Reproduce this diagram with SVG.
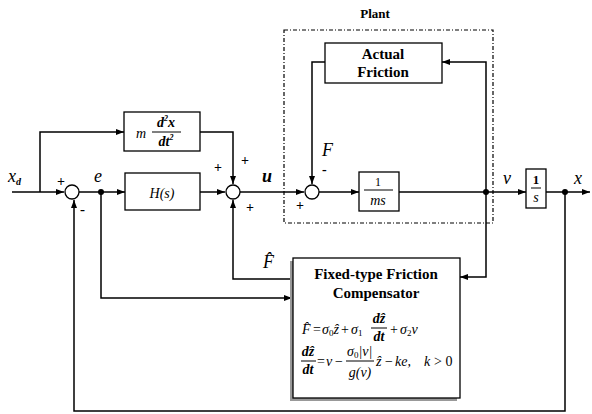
<svg xmlns="http://www.w3.org/2000/svg" width="592" height="414" viewBox="0 0 592 414" font-family="Liberation Serif, Times New Roman, serif">
<style>
.ar{stroke:#000;stroke-width:1.5;fill:none;marker-end:url(#ah)}
.box{fill:#fff;stroke:#000;stroke-width:1.3}
.sum{fill:#fff;stroke:#000;stroke-width:1.3}
.dot{fill:#000}
text{fill:#000;font-family:"Liberation Serif","Times New Roman",Times,serif}
.b{font-weight:bold}
.lbl{font-size:18px;font-style:italic}
.sg{font-size:15px;font-weight:bold}
.eq{font-size:14px;font-style:italic}
.rm{font-style:normal}
.sub{font-size:9px;font-style:normal}
</style>
<defs>
<marker id="ah" markerWidth="8" markerHeight="6" refX="8" refY="3" orient="auto" markerUnits="userSpaceOnUse">
<path d="M0,0 L8,3 L0,6 z" fill="#000"/>
</marker>
</defs>

<g id="connectors">
<path class="ar" d="M12,192 H64"/>
<path class="ar" d="M40,192 V132 H124"/>
<path class="ar" d="M79,192 H125"/>
<path class="ar" d="M200,192 H225"/>
<path class="ar" d="M200,132 H233 V184"/>
<path class="ar" d="M240,192 H304"/>
<path class="ar" d="M325,62 H312 V184"/>
<path class="ar" d="M319,192 H359"/>
<path class="ar" d="M399,192 H526"/>
<path class="ar" d="M486,192 V62 H442"/>
<path class="ar" d="M486,192 V277 H460"/>
<path class="ar" d="M546,192 H590"/>
<path class="ar" d="M565,192 V411 H74 V200"/>
<path class="ar" d="M101,192 V298 H292"/>
<path class="ar" d="M292,279 H233 V200"/>
<circle class="dot" cx="101" cy="192" r="3"/>
<circle class="dot" cx="486" cy="192" r="3"/>
<circle class="dot" cx="565" cy="192" r="3"/>
</g>

<g id="plant">
<rect x="284" y="30" width="209" height="193" fill="none" stroke="#000" stroke-width="1.2" stroke-dasharray="4,2,1,2"/>
<text x="375" y="18" font-size="13" class="b" text-anchor="middle">Plant</text>
</g>

<g id="sum1"><circle class="sum" cx="72" cy="192" r="7"/></g>
<g id="sum2"><circle class="sum" cx="233" cy="192" r="7"/></g>
<g id="sum3"><circle class="sum" cx="312" cy="192" r="7"/></g>

<g id="feedforward">
<rect class="box" x="124" y="112" width="76" height="39"/>
<text x="136" y="138" class="eq" font-size="16">m</text>
<text x="166" y="127" class="eq b" font-size="14" text-anchor="middle">d<tspan font-size="8" dy="-6">2</tspan><tspan dy="6">x</tspan></text>
<line x1="152" y1="132" x2="181" y2="132" stroke="#000" stroke-width="1"/>
<text x="166" y="146" class="eq b" font-size="14" text-anchor="middle">dt<tspan font-size="8" dy="-6">2</tspan></text>
</g>

<g id="controller">
<rect class="box" x="125" y="173" width="75" height="37"/>
<text x="162" y="198" class="eq" font-size="16" text-anchor="middle">H(s)</text>
</g>

<g id="friction">
<rect class="box" x="325" y="43" width="117" height="40"/>
<text x="383" y="59" class="sg" text-anchor="middle">Actual</text>
<text x="383" y="77" class="sg" text-anchor="middle">Friction</text>
</g>

<g id="mass">
<rect class="box" x="359" y="172" width="40" height="39"/>
<text x="378" y="186" font-size="12" text-anchor="middle">1</text>
<line x1="364" y1="190" x2="393" y2="190" stroke="#000" stroke-width="1"/>
<text x="378" y="205" class="eq" font-size="12" text-anchor="middle">ms</text>
</g>

<g id="integrator">
<rect class="box" x="526" y="169" width="20" height="39"/>
<text x="536" y="184" font-size="13" class="b" text-anchor="middle">1</text>
<line x1="531" y1="188" x2="541" y2="188" stroke="#000" stroke-width="1"/>
<text x="536" y="202" class="eq" font-size="14" text-anchor="middle">s</text>
</g>

<g id="compensator">
<rect x="290" y="261" width="167" height="140" fill="#999"/>
<rect class="box" x="293" y="258" width="167" height="140" stroke-width="1.5"/>
<text x="376" y="279" class="sg" font-size="16" text-anchor="middle">Fixed-type Friction</text>
<text x="376" y="298" class="sg" font-size="16" text-anchor="middle">Compensator</text>
<text x="302" y="334" class="eq">F̂</text>
<text x="313" y="334" class="eq rm">=</text>
<text x="322" y="334" class="eq">σ<tspan class="sub" dy="2">0</tspan><tspan dy="-2">ẑ</tspan></text>
<text x="341" y="334" class="eq rm">+</text>
<text x="351" y="334" class="eq">σ<tspan class="sub" dy="2">1</tspan></text>
<text x="379" y="323" class="eq b" font-size="13" text-anchor="middle">dẑ</text>
<line x1="371" y1="328" x2="387" y2="328" stroke="#000" stroke-width="1"/>
<text x="379" y="341" class="eq b" font-size="13" text-anchor="middle">dt</text>
<text x="390" y="334" class="eq rm">+</text>
<text x="400" y="334" class="eq">σ<tspan class="sub" dy="2">2</tspan><tspan dy="-2">v</tspan></text>
<text x="308" y="356" class="eq b" font-size="13" text-anchor="middle">dẑ</text>
<line x1="301" y1="361" x2="316" y2="361" stroke="#000" stroke-width="1"/>
<text x="308" y="374" class="eq b" font-size="13" text-anchor="middle">dt</text>
<text x="317" y="366" class="eq rm">=</text>
<text x="326" y="366" class="eq">v</text>
<text x="335" y="366" class="eq rm">−</text>
<text x="347" y="356" class="eq">σ<tspan class="sub" dy="2">0</tspan><tspan dy="-2">|v|</tspan></text>
<line x1="346" y1="361" x2="374" y2="361" stroke="#000" stroke-width="1"/>
<text x="360" y="377" class="eq" text-anchor="middle">g(v)</text>
<text x="376" y="366" class="eq">ẑ</text>
<text x="385" y="366" class="eq rm">−</text>
<text x="395" y="366" class="eq">ke,</text>
<text x="424" y="366" class="eq">k</text>
<text x="434" y="366" class="eq rm">&gt; 0</text>
</g>

<g id="labels">
<text x="8" y="182" class="lbl">x<tspan font-size="10" dy="3" class="b">d</tspan></text>
<text x="57" y="186" font-size="14" class="b">+</text>
<text x="80" y="214" font-size="15" class="b">-</text>
<text x="94" y="182" class="lbl">e</text>
<text x="214" y="172" font-size="14" class="b">+</text>
<text x="241" y="165" font-size="14" class="b">+</text>
<text x="246" y="212" font-size="14" class="b">+</text>
<text x="262" y="182" class="lbl b">u</text>
<text x="322" y="156" class="lbl">F</text>
<text x="322" y="174" font-size="14" class="b">-</text>
<text x="296" y="210" font-size="14" class="b">+</text>
<text x="263" y="268" class="lbl">F̂</text>
<text x="503" y="184" class="lbl">v</text>
<text x="574" y="184" class="lbl">x</text>
</g>
</svg>
